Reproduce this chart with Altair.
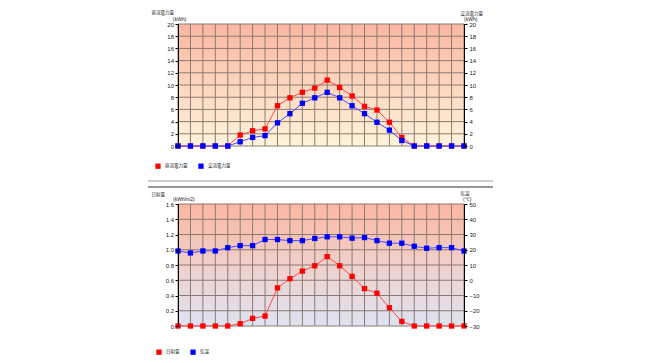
import altair as alt
import pandas as pd

# ---- data ----
hours = list(range(24))
dc_kwh = [0, 0, 0, 0, 0, 1.8, 2.5, 2.8, 6.6, 7.9, 8.8, 9.5, 10.8, 9.6, 8.2, 6.5, 5.9, 3.9, 1.4, 0, 0, 0, 0, 0]
ac_kwh = [0, 0, 0, 0, 0, 0.7, 1.4, 1.7, 3.8, 5.3, 7.0, 7.9, 8.8, 7.9, 6.6, 5.3, 3.9, 2.6, 0.9, 0, 0, 0, 0, 0]
solar = [0, 0, 0, 0, 0, 0.03, 0.10, 0.13, 0.50, 0.62, 0.72, 0.79, 0.91, 0.79, 0.65, 0.49, 0.43, 0.24, 0.06, 0, 0, 0, 0, 0]
temp = [19.2, 17.9, 19.2, 19.2, 21.4, 22.7, 22.7, 26.7, 26.7, 26.0, 26.0, 27.4, 28.5, 28.5, 27.6, 28.0, 26.0, 24.3, 24.3, 22.3, 21.0, 21.4, 21.4, 19.2]

top_series = ["直流電力量", "交流電力量"]
bot_series = ["日射量", "気温"]
top_ticks = list(range(0, 21, 2))
solar_ticks = [round(0.2 * i, 1) for i in range(9)]
temp_ticks = list(range(-30, 51, 10))

top_df = pd.DataFrame({"hour": hours, "dc": dc_kwh, "ac": ac_kwh})
bot_df = pd.DataFrame({"hour": hours, "solar": solar, "temp": temp})
hour_df = pd.DataFrame({"hour": hours})

W, H = 286, 122
NUM = "Liberation Sans"
JP = "Noto Sans CJK JP"
RED, BLUE = "#ff0000", "#0000ff"
RED_LINE, BLUE_LINE = "#ff4848", "#4848ff"
GRID = "#8c7a72"

X_SCALE = alt.Scale(domain=[0, 23], nice=False, zero=False)


def x_enc(show_axis=True):
    if not show_axis:
        return alt.X("hour:Q", scale=X_SCALE, axis=None)
    return alt.X(
        "hour:Q",
        scale=X_SCALE,
        axis=alt.Axis(
            values=hours, grid=False, ticks=False, labelPadding=5, labelFlush=False,
            domainColor="#000", domainWidth=2, zindex=1,
            title="時", titleAngle=0, titleX=291, titleY=9, titleAlign="left",
            titleBaseline="middle", titleFont=JP, titleFontSize=4.5,
            titleFontWeight="normal", titleColor="#222",
        ),
    )


def y_axis(orient, values, title, tx, ty, label_expr=None):
    kw = dict(
        orient=orient, values=values, grid=False, tickSize=3, tickColor="#000",
        domainColor="#000", domainWidth=1, zindex=1,
        labelPadding=1.5 if orient == "left" else 2,
        title=title, titleAngle=0, titleX=tx, titleY=ty, titleAlign="left",
        titleBaseline="middle", titleFont=JP, titleFontSize=4.5,
        titleFontWeight="normal", titleColor="#222",
    )
    if label_expr:
        kw["labelExpr"] = label_expr
    return alt.Axis(**kw)


def legend(lx, ly):
    return alt.Legend(
        orient="none", legendX=lx, legendY=ly, direction="horizontal", title=None,
        symbolType="square", symbolSize=28, symbolStrokeWidth=0, labelFont=JP,
        labelFontSize=4.5, labelColor="#222", labelOffset=4, columnPadding=10,
    )


def series_layer(df, field, name, domain, axis, scale_dom, line_col, leg):
    base = alt.Chart(df).transform_calculate(s=f"'{name}'")
    y = alt.Y(f"{field}:Q", scale=alt.Scale(domain=scale_dom, nice=False, zero=False), axis=axis)
    line = base.mark_line(color=line_col, strokeWidth=1).encode(x=x_enc(), y=y)
    pts = base.mark_point(shape="square", filled=True, size=28, opacity=1).encode(
        x=x_enc(), y=y,
        color=alt.Color("s:N", scale=alt.Scale(domain=domain, range=[RED, BLUE]), legend=leg),
    )
    return alt.layer(line, pts)


def background(grad):
    return alt.Chart(pd.DataFrame({"a": [0]})).mark_rect(color=grad).encode(
        x=alt.value(0), x2=alt.value(W), y=alt.value(0), y2=alt.value(H)
    )


def grid_layers(ticks, dom):
    vgrid = alt.Chart(hour_df).mark_rule(color=GRID, strokeWidth=1).encode(x=x_enc(False))
    hgrid = alt.Chart(pd.DataFrame({"v": ticks})).mark_rule(color=GRID, strokeWidth=1).encode(
        y=alt.Y("v:Q", scale=alt.Scale(domain=dom, nice=False, zero=False), axis=None)
    )
    return vgrid, hgrid


def unit_text(label, x, y):
    return alt.Chart(pd.DataFrame({"t": [label]})).mark_text(
        align="left", baseline="middle", font=NUM, fontSize=5, color="#222"
    ).encode(text="t:N", x=alt.value(x), y=alt.value(y))


top_grad = {
    "gradient": "linear", "x1": 0, "x2": 0, "y1": 0, "y2": 1,
    "stops": [{"offset": 0, "color": "#fbb7a0"}, {"offset": 1, "color": "#fff4dc"}],
}
bot_grad = {
    "gradient": "linear", "x1": 0, "x2": 0, "y1": 0, "y2": 1,
    "stops": [
        {"offset": 0, "color": "#fbb7a0"},
        {"offset": 0.55, "color": "#efd2d0"},
        {"offset": 1, "color": "#dde3f2"},
    ],
}

leg_top = legend(-23, 139)
top_left = series_layer(
    top_df, "dc", top_series[0], top_series,
    y_axis("left", top_ticks, top_series[0], -27, -12, "format(datum.value, 'd')"),
    [0, 20], RED_LINE, leg_top,
)
top_right = series_layer(
    top_df, "ac", top_series[1], top_series,
    y_axis("right", top_ticks, top_series[1], -4, -11, "format(datum.value, 'd')"),
    [0, 20], BLUE_LINE, leg_top,
)
sep1 = alt.Chart(pd.DataFrame({"a": [0]})).mark_rule(color="#9a9a9a", strokeWidth=1).encode(
    x=alt.value(-30), x2=alt.value(315), y=alt.value(157))
sep2 = alt.Chart(pd.DataFrame({"a": [0]})).mark_rule(color="#333333", strokeWidth=1.2).encode(
    x=alt.value(-30), x2=alt.value(315), y=alt.value(163))

tv, th = grid_layers(top_ticks, [0, 20])
top = alt.layer(
    background(top_grad), tv, th, top_left, top_right,
    unit_text("(kWh)", -5, -5), unit_text("(kWh)", 286, -5), sep1, sep2
).resolve_scale(y="independent").properties(width=W, height=H)

leg_bot = legend(-22, 145)
bot_left = series_layer(
    bot_df, "solar", bot_series[0], bot_series,
    y_axis("left", solar_ticks, bot_series[0], -27, -10,
           "datum.value == 0 ? '0' : format(datum.value, '.1f')"),
    [0, 1.6], RED_LINE, leg_bot,
)
bot_right = series_layer(
    bot_df, "temp", bot_series[1], bot_series,
    y_axis("right", temp_ticks, bot_series[1], -4, -11),
    [-30, 50], BLUE_LINE, leg_bot,
)
bv, bh = grid_layers(solar_ticks, [0, 1.6])
bottom = alt.layer(
    background(bot_grad), bv, bh, bot_left, bot_right,
    unit_text("(kWh/m2)", -5, -5), unit_text("(℃)", 285, -5)
).resolve_scale(y="independent").properties(width=W, height=H)

chart = (
    alt.vconcat(top, bottom, spacing=58, bounds="flush")
    .resolve_scale(color="independent")
    .properties(
        autosize=alt.AutoSizeParams(type="none"),
        padding={"left": 170, "top": 16, "right": 40, "bottom": 331},
        background="white",
    )
    .configure_axis(labelFont=NUM, labelFontSize=6, labelColor="#222")
    .configure_view(stroke=None)
)

chart.save("out.html", embed_options={"renderer": "svg", "actions": False})
